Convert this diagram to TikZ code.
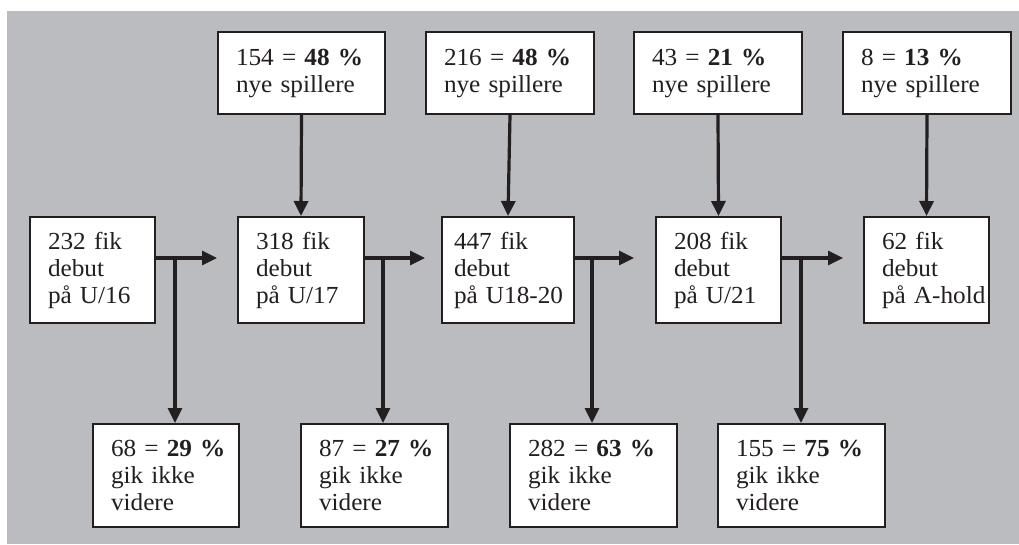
\documentclass[tikz,border=0pt]{standalone}
\usepackage{fontspec}
\setmainfont{Liberation Serif}[FakeStretch=1.03,Ligatures=NoCommon]
\usetikzlibrary{arrows.meta}
\definecolor{bg}{RGB}{187,188,192}
\definecolor{ink}{RGB}{35,31,32}
\begin{document}
\begin{tikzpicture}[x=1pt,y=-1pt,
  box/.style={draw=ink, line width=2pt, fill=white, anchor=north west,
    inner xsep=18pt, inner ysep=0pt, align=left,
    font=\fontsize{24.5}{27}\selectfont, text=ink},
  topbox/.style={box, minimum height=82pt},
  midbox/.style={box, minimum height=106pt},
  lowbox/.style={box, minimum height=103pt},
  arr/.style={draw=ink, line width=3.2pt, -{Triangle[length=15pt,width=14pt]}}]
\useasboundingbox (0,0) rectangle (1019,544);
\fill[white] (0,0) rectangle (1019,544);
\fill[bg] (7,11) rectangle (1019,544);
% top row
\node[topbox, text width=131pt] (T1) at (217,31) {\mbox{154 = \textbf{48 \%}}\\\mbox{nye spillere}};
\node[topbox, text width=132pt] (T2) at (425,31) {\mbox{216 = \textbf{48 \%}}\\\mbox{nye spillere}};
\node[topbox, text width=132pt] (T3) at (633,31) {\mbox{43 = \textbf{21 \%}}\\\mbox{nye spillere}};
\node[topbox, text width=132pt] (T4) at (842,31) {\mbox{8 = \textbf{13 \%}}\\\mbox{nye spillere}};
% middle row
\node[midbox, text width=89pt] (A) at (29,216) {\mbox{232 fik}\\debut\\\mbox{på U/16}};
\node[midbox, text width=90pt] (B) at (237,216) {\mbox{318 fik}\\debut\\\mbox{på U/17}};
\node[midbox, inner xsep=12pt, text width=108pt] (C) at (441,216) {\mbox{447 fik}\\debut\\\mbox{på U18-20}};
\node[midbox, text width=89pt] (D) at (655,216) {\mbox{208 fik}\\debut\\\mbox{på U/21}};
\node[midbox, text width=89pt] (E) at (863,216) {\mbox{62 fik}\\debut\\\mbox{på A-hold}};
% bottom row
\node[lowbox, text width=110pt] (L1) at (92,423) {\mbox{68 = \textbf{29 \%}}\\\mbox{gik ikke}\\videre};
\node[lowbox, text width=111pt] (L2) at (300,423) {\mbox{87 = \textbf{27 \%}}\\\mbox{gik ikke}\\videre};
\node[lowbox, text width=131pt] (L3) at (509,423) {\mbox{282 = \textbf{63 \%}}\\\mbox{gik ikke}\\videre};
\node[lowbox, text width=131pt] (L4) at (717,423) {\mbox{155 = \textbf{75 \%}}\\\mbox{gik ikke}\\videre};
% vertical arrows from top boxes
\draw[arr] (T1.south) -- (B.north);
\draw[arr] (T2.south) -- (C.north);
\draw[arr] (T3.south) -- (D.north);
\draw[arr] (T4.south) -- (E.north);
% horizontal arrows and branches
\coordinate (a1) at (217,258); \coordinate (j1) at (175,258);
\coordinate (a2) at (425,258); \coordinate (j2) at (383,258);
\coordinate (a3) at (634,258); \coordinate (j3) at (592,258);
\coordinate (a4) at (843,258); \coordinate (j4) at (801,258);
\draw[arr] (A.east |- a1) -- (a1);
\draw[arr] (B.east |- a2) -- (a2);
\draw[arr] (C.east |- a3) -- (a3);
\draw[arr] (D.east |- a4) -- (a4);
\draw[arr] (j1) -- (j1 |- L1.north);
\draw[arr] (j2) -- (j2 |- L2.north);
\draw[arr] (j3) -- (j3 |- L3.north);
\draw[arr] (j4) -- (j4 |- L4.north);
\end{tikzpicture}
\end{document}
